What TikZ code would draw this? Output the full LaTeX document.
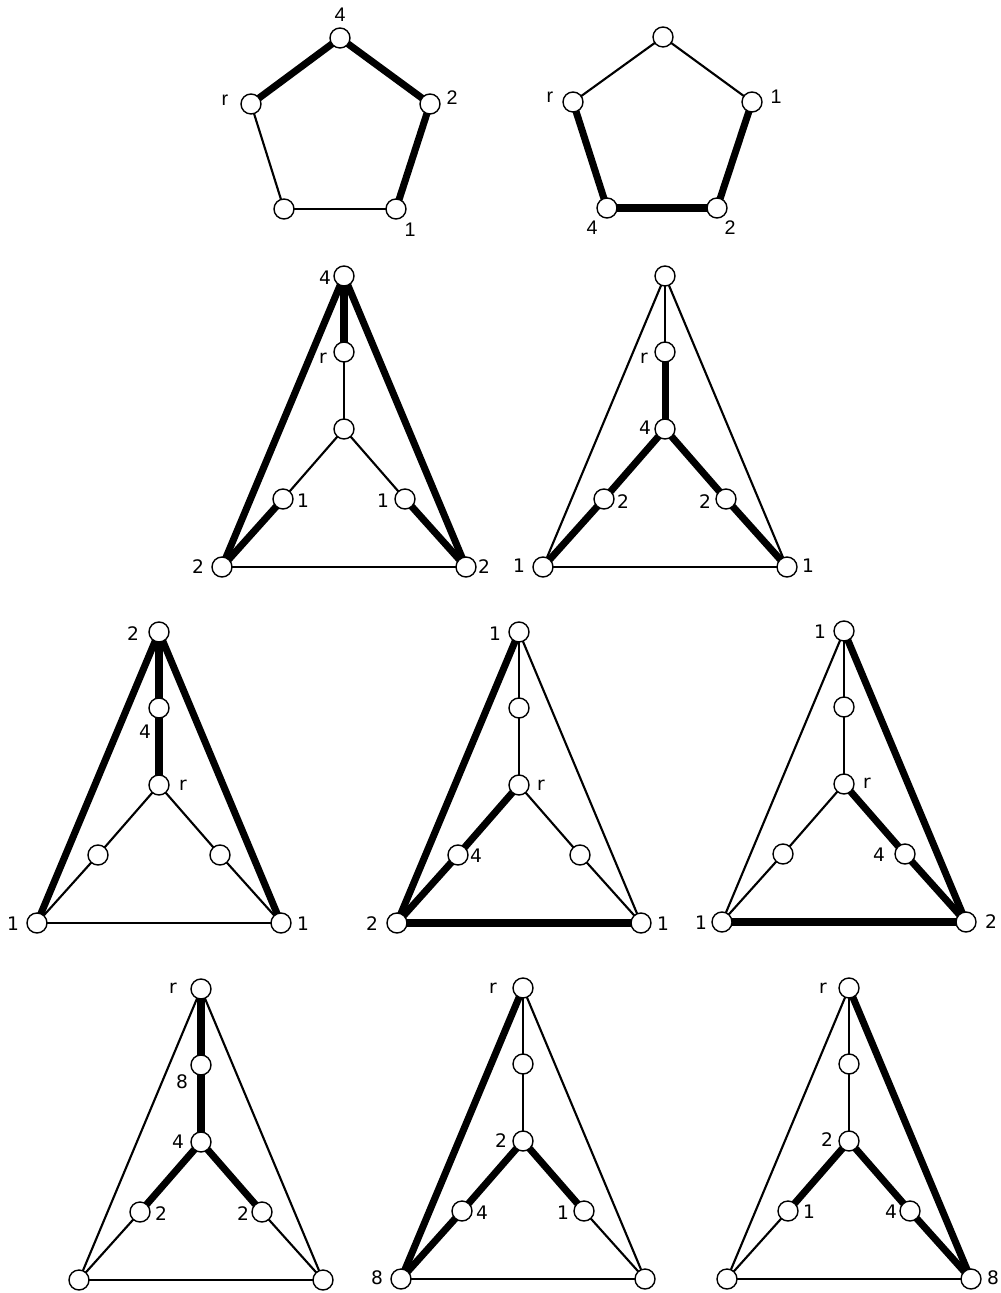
\documentclass[tikz,border=0pt]{standalone}
\usepackage{fontspec}
\setmainfont{DejaVu Sans}
\newfontfamily\pfont{Liberation Sans}
\pgfdeclarelayer{background}
\pgfsetlayers{background,main}
\tikzset{
  vtx/.style={circle, draw=black, fill=white, line width=0.4pt, minimum size=2mm, inner sep=0pt},
  thin edge/.style={line width=0.6pt},
  thick edge/.style={line width=2pt},
  e0/.style={thin edge},
  e1/.style={thick edge},
  lab/.style={inner sep=0pt, font=\fontsize{5.3}{6}\selectfont},
  plab/.style={inner sep=0pt, font=\pfont\fontsize{5.6}{6.5}\selectfont},
}
\newcommand\trinodes[3]{%
  \node[vtx] (#1a) at (#2,#3) {};
  \node[vtx] (#1b) at (#2,#3+76) {};
  \node[vtx] (#1c) at (#2,#3+153) {};
  \node[vtx] (#1d) at (#2-61,#3+223) {};
  \node[vtx] (#1e) at (#2+61,#3+223) {};
  \node[vtx] (#1f) at (#2-122,#3+291) {};
  \node[vtx] (#1g) at (#2+122,#3+291) {};
}
% edges in order: ab bc cd ce df eg af ag fg ; 1 = thick, 0 = thin
\newcommand\triedges[2]{\def\tpre{#1}\triedgesaux#2}
\def\triedgesaux#1#2#3#4#5#6#7#8#9{%
  \begin{pgfonlayer}{background}
  \draw[e#1] (\tpre a.center) -- (\tpre b.center);
  \draw[e#2] (\tpre b.center) -- (\tpre c.center);
  \draw[e#3] (\tpre c.center) -- (\tpre d.center);
  \draw[e#4] (\tpre c.center) -- (\tpre e.center);
  \draw[e#5] (\tpre d.center) -- (\tpre f.center);
  \draw[e#6] (\tpre e.center) -- (\tpre g.center);
  \draw[e#7] (\tpre a.center) -- (\tpre f.center);
  \draw[e#8] (\tpre a.center) -- (\tpre g.center);
  \draw[e#9] (\tpre f.center) -- (\tpre g.center);
  \end{pgfonlayer}
}
\begin{document}
\begin{tikzpicture}[x=0.1mm,y=-0.1mm]
\useasboundingbox (0,0) rectangle (1000,1293);

% ---------- Pentagon 1 ----------
\node[vtx] (p1a) at (340,38) {};
\node[vtx] (p1r) at (251,104) {};
\node[vtx] (p1b) at (430,104) {};
\node[vtx] (p1c) at (396,209) {};
\node[vtx] (p1d) at (284,209) {};
\begin{pgfonlayer}{background}
\draw[thick edge] (p1r.center) -- (p1a.center);
\draw[thick edge] (p1a.center) -- (p1b.center);
\draw[thick edge] (p1b.center) -- (p1c.center);
\draw[thin edge] (p1c.center) -- (p1d.center);
\draw[thin edge] (p1d.center) -- (p1r.center);
\end{pgfonlayer}
\node[plab] (p1la) at (340,15) {4};
\node[plab] (p1lr) at (225,100) {r};
\node[plab] (p1lb) at (452,98) {2};
\node[plab] (p1lc) at (410,230) {1};

% ---------- Pentagon 2 ----------
\node[vtx] (p2a) at (663,37) {};
\node[vtx] (p2r) at (573,102) {};
\node[vtx] (p2b) at (752,102) {};
\node[vtx] (p2c) at (717,208) {};
\node[vtx] (p2d) at (607,208) {};
\begin{pgfonlayer}{background}
\draw[thin edge] (p2a.center) -- (p2r.center);
\draw[thin edge] (p2a.center) -- (p2b.center);
\draw[thick edge] (p2b.center) -- (p2c.center);
\draw[thick edge] (p2c.center) -- (p2d.center);
\draw[thick edge] (p2d.center) -- (p2r.center);
\end{pgfonlayer}
\node[plab] (p2lr) at (550,97) {r};
\node[plab] (p2lb) at (776,97) {1};
\node[plab] (p2ld) at (592,228) {4};
\node[plab] (p2lc) at (730,228) {2};

% ---------- Triangle 1 ----------
\trinodes{ta}{344}{276}
\triedges{ta}{100011110}
\node[lab] (tal1) at (325,278) {4};
\node[lab] (tal2) at (323,358) {r};
\node[lab] (tal3) at (303,501) {1};
\node[lab] (tal4) at (383,501) {1};
\node[lab] (tal5) at (198,567) {2};
\node[lab] (tal6) at (484,567) {2};

% ---------- Triangle 2 ----------
\trinodes{tb}{665}{276}
\triedges{tb}{011111000}
\node[lab] (tbl1) at (644,358) {r};
\node[lab] (tbl2) at (645,428) {4};
\node[lab] (tbl3) at (623,502) {2};
\node[lab] (tbl4) at (705,502) {2};
\node[lab] (tbl5) at (519,566) {1};
\node[lab] (tbl6) at (808,566) {1};

% ---------- Triangle 3 ----------
\trinodes{tc}{159}{632}
\triedges{tc}{110000110}
\node[lab] (tcl1) at (133,634) {2};
\node[lab] (tcl2) at (145,732) {4};
\node[lab] (tcl3) at (183,785) {r};
\node[lab] (tcl4) at (13,924) {1};
\node[lab] (tcl5) at (303,924) {1};

% ---------- Triangle 4 ----------
\trinodes{td}{519}{632}
\triedges{td}{001010101}
\node[lab] (tdl1) at (495,634) {1};
\node[lab] (tdl2) at (541,785) {r};
\node[lab] (tdl3) at (476,856) {4};
\node[lab] (tdl4) at (372,924) {2};
\node[lab] (tdl5) at (663,924) {1};

% ---------- Triangle 5 ----------
\trinodes{te}{844}{631}
\triedges{te}{000101011}
\node[lab] (tel1) at (820,632) {1};
\node[lab] (tel2) at (867,783) {r};
\node[lab] (tel3) at (879,855) {4};
\node[lab] (tel4) at (701,923) {1};
\node[lab] (tel5) at (991,922) {2};

% ---------- Triangle 6 ----------
\trinodes{tf}{201}{989}
\triedges{tf}{111100000}
\node[lab] (tfl1) at (173,988) {r};
\node[lab] (tfl2) at (182,1082) {8};
\node[lab] (tfl3) at (178,1142) {4};
\node[lab] (tfl4) at (161,1214) {2};
\node[lab] (tfl5) at (243,1214) {2};

% ---------- Triangle 7 ----------
\trinodes{tg}{523}{988}
\triedges{tg}{001110100}
\node[lab] (tgl1) at (493,988) {r};
\node[lab] (tgl2) at (501,1141) {2};
\node[lab] (tgl3) at (482,1213) {4};
\node[lab] (tgl4) at (563,1213) {1};
\node[lab] (tgl5) at (377,1278) {8};

% ---------- Triangle 8 ----------
\trinodes{th}{849}{988}
\triedges{th}{001101010}
\node[lab] (thl1) at (823,988) {r};
\node[lab] (thl2) at (827,1140) {2};
\node[lab] (thl3) at (809,1212) {1};
\node[lab] (thl4) at (891,1212) {4};
\node[lab] (thl5) at (993,1278) {8};
\end{tikzpicture}
\end{document}
